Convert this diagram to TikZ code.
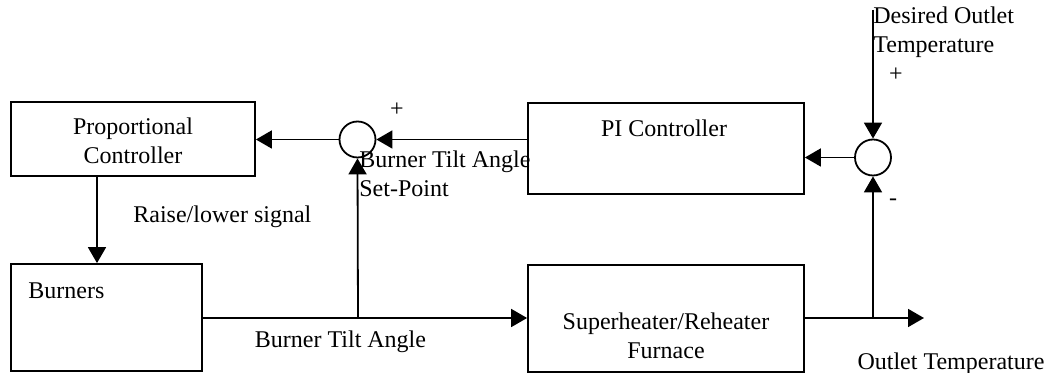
\documentclass[tikz,border=0pt]{standalone}
\usepackage{fontspec}
\setmainfont{Liberation Serif}
\usetikzlibrary{arrows.meta,calc}
\tikzset{
  blk/.style={draw, line width=0.9pt, rectangle, inner sep=0pt},
  sumc/.style={draw, line width=0.9pt, circle, inner sep=0pt, minimum size=18pt},
  arr/.style={line width=0.9pt, -{Triangle[length=8pt,width=9pt]}},
  ln/.style={line width=0.9pt},
  txt/.style={inner sep=0pt, font=\fontsize{12}{14.5}\selectfont},
}
\begin{document}
\begin{tikzpicture}[x=0.5pt,y=-0.5pt]
\useasboundingbox[fill=white] (0,0) rectangle (1051,373);
% blocks
\node[blk, minimum width=122pt, minimum height=37pt] (prop) at (133,139) {};
\node[txt, align=center] (proptxt) at (133,141) {Proportional\\Controller};
\node[blk, minimum width=138pt, minimum height=45.5pt] (pi) at (666,148.5) {};
\node[txt] (pitxt) at (664,128) {PI Controller};
\node[blk, minimum width=95.5pt, minimum height=53.5pt] (burn) at (106.5,317.5) {};
\node[txt, anchor=west] (burntxt) at (28,291) {Burners};
\node[blk, minimum width=138pt, minimum height=53.5pt] (sh) at (666,318.5) {};
\node[txt, align=center] (shtxt) at (666,336) {Superheater/Reheater\\Furnace};
% summing junctions
\node[sumc] (s1) at (357.5,139.5) {};
\node[sumc] (s2) at (873,157.5) {};
% coordinates
\coordinate (pd) at (97,176);
\coordinate (j1) at (358,318);
\coordinate (j2) at (873,318);
\coordinate (out) at (924,318);
\coordinate (des) at (873,10);
% connectors
\draw[arr] (pi.west |- s1.east) -- (s1.east);
\draw[arr] (s1.west) -- (s1.west -| prop.east);
\draw[arr] (pd) -- (pd |- burn.north);
\draw[arr] (burn.east |- j1) -- (j1 -| sh.west);
\draw[arr] (j1) -- (s1.south);
\draw[arr] (sh.east |- j2) -- (out);
\draw[arr] (j2) -- (s2.south);
\draw[arr] (des) -- (s2.north);
\draw[arr] (s2.west) -- (s2.west -| pi.east);
% labels
\node[txt, anchor=west] (rl) at (133,217) {Raise/lower signal};
\node[txt] (p1) at (397,110) {+};
\node[txt, anchor=west, align=left] (btasp) at (359,174) {Burner Tilt Angle\\Set-Point};
\node[txt] (bta) at (340.5,342) {Burner Tilt Angle};
\node[txt, anchor=west, align=left] (dot) at (873,32.5) {Desired Outlet\\Temperature};
\node[txt] (p2) at (896,75) {+};
\node[txt] (m2) at (893,202) {-};
\node[txt] (ot) at (951,364) {Outlet Temperature};
\end{tikzpicture}
\end{document}
